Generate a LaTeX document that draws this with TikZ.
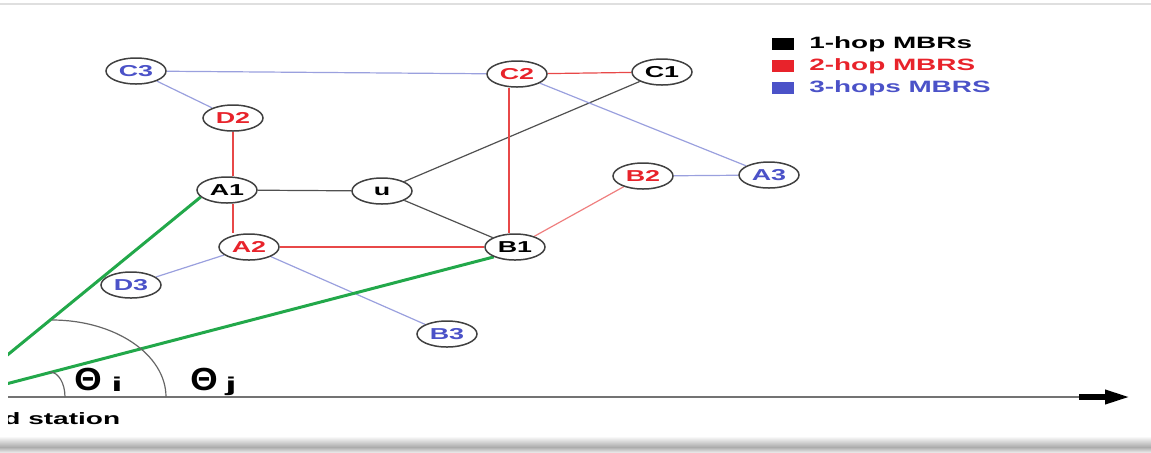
\documentclass[tikz,border=0pt]{standalone}
\usepackage{fontspec}
\setmainfont{Liberation Sans}
\newfontfamily\lbl{Liberation Sans Bold}[FakeStretch=1.7]
\newfontfamily\thetafont{Liberation Sans Bold}[FakeStretch=1.1]
\usetikzlibrary{shapes.geometric,arrows.meta,backgrounds}
\definecolor{hopred}{HTML}{E8232B}
\definecolor{hopblue}{HTML}{4B52C8}
\definecolor{edgered}{HTML}{E84848}
\definecolor{edgeblue}{HTML}{9AA0DE}
\definecolor{edgeblack}{HTML}{505050}
\definecolor{rangegreen}{HTML}{22A84A}

\begin{document}
\begin{tikzpicture}[x=0.5pt,y=-0.5pt,
  mbr/.style={ellipse, draw=black!75, line width=0.75pt, fill=white,
    minimum width=30pt, minimum height=13pt, inner sep=0pt,
    font=\lbl\fontsize{7.9pt}{8pt}\selectfont},
  hopone/.style={mbr, text=black},
  hoptwo/.style={mbr, text=hopred},
  hopthree/.style={mbr, text=hopblue},
  linkone/.style={draw=edgeblack, line width=0.6pt},
  linktwo/.style={draw=edgered, line width=0.6pt},
  linkthree/.style={draw=edgeblue, line width=0.6pt},
  rangeline/.style={draw=rangegreen, line width=1.5pt},
  anglearc/.style={draw=black!60, line width=0.6pt},
  thetalabel/.style={inner sep=0pt, font=\thetafont\fontsize{16pt}{17pt}\selectfont},
  sublabel/.style={inner sep=0pt, font=\lbl\fontsize{10pt}{11pt}\selectfont, xscale=1.2},
  legsq/.style={rectangle, minimum width=11pt, minimum height=6pt, inner sep=0pt},
  legtext/.style={anchor=west, inner sep=0pt, font=\lbl\fontsize{8.2pt}{9pt}\selectfont},
]
\useasboundingbox (0,0) rectangle (1151,452);

% frame edges of the panel
\draw[gray!25, line width=1pt] (0,4) -- (1151,4);
\shade[top color=white, bottom color=gray!65] (0,436) rectangle (1151,447);
\shade[top color=gray!65, bottom color=gray!20] (0,447) rectangle (1151,452);

% relay nodes
\node[hopthree] (C3) at (136,71) {C3};
\node[hoptwo]   (C2) at (517,74) {C2};
\node[hopone]   (C1) at (662,72) {C1};
\node[hoptwo]   (D2) at (233,118) {D2};
\node[hopone]   (A1) at (227,190) {A1};
\node[hopone]   (u)  at (382,191) {u};
\node[hoptwo]   (B2) at (643,176) {B2};
\node[hopthree] (A3) at (769,175) {A3};
\node[hoptwo]   (A2) at (249,247) {A2};
\node[hopone]   (B1) at (515,247) {B1};
\node[hopthree] (D3) at (131,285) {D3};
\node[hopthree] (B3) at (447,334) {B3};

% angle origin (base station, left of the panel)
\coordinate (O) at (-44,397);
\coordinate (axstart) at (8,397);
\coordinate (axend) at (1084,397);
\coordinate (shaftstart) at (1079,397);
\coordinate (tipend) at (1131,397);

\begin{pgfonlayer}{background}
  % 1-hop links
  \draw[linkone] (A1) -- (u);
  \draw[linkone] (u) -- (C1);
  \draw[linkone] (u) -- (B1);
  % 2-hop links
  \draw[linktwo] (D2.south) -- (D2.south |- A1.north);
  \draw[linktwo] ([xshift=3]A1.south) -- ([xshift=3]A1.south |- A2.north);
  \draw[linktwo] (A2) -- (B1);
  \draw[linktwo] (C2) -- (C1);
  \draw[linktwo] ([xshift=-4]C2.south) -- ([xshift=-4]C2.south |- B1.north);
  \draw[linktwo, draw=edgered!70] (B1) -- (B2);
  % 3-hop links
  \draw[linkthree] (C3) -- (C2);
  \draw[linkthree] (C3) -- (D2);
  \draw[linkthree] (C2) -- (A3);
  \draw[linkthree] (B2) -- (A3);
  \draw[linkthree] (A2) -- (D3);
  \draw[linkthree] (A2) -- (B3);

  \begin{scope}
    \clip (8,0) rectangle (1151,452);
    % range lines from the station
    \draw[rangeline] (A1.195) -- (O);
    \draw[rangeline] (B1.205) -- (O);
    % horizontal reference axis
    \draw[draw=black!55, line width=1pt] (axstart) -- (axend);
    % angle arcs
    \draw[anglearc] (52,320) arc[start angle=-90, end angle=0, x radius=114, y radius=77];
    \draw[anglearc] (50,372) arc[start angle=-90, end angle=0, x radius=15, y radius=25];
    \node[anchor=base west, inner sep=0pt, font=\lbl\fontsize{8.25pt}{9pt}\selectfont] (station) at (3,424) {d station};
  \end{scope}
\end{pgfonlayer}

\draw[line width=3pt, -{Triangle[length=13pt,width=6.5pt]}] (shaftstart) -- (tipend);

% angle labels
\node[thetalabel] (thi) at (88,379) {Θ};
\node[sublabel] (subi) at (117,384) {i};
\node[thetalabel] (thj) at (204,379) {Θ};
\node[sublabel] (subj) at (231,386) {j};

% legend
\node[legsq, fill=black] (k1) at (783,44) {};
\node[legsq, fill=hopred] (k2) at (783,66) {};
\node[legsq, fill=hopblue] (k3) at (783,88) {};
\node[legtext, text=black] (t1) at (809,44) {1-hop MBRs};
\node[legtext, text=hopred] (t2) at (809,66) {2-hop MBRS};
\node[legtext, text=hopblue] (t3) at (809,88) {3-hops MBRS};
\end{tikzpicture}
\end{document}
